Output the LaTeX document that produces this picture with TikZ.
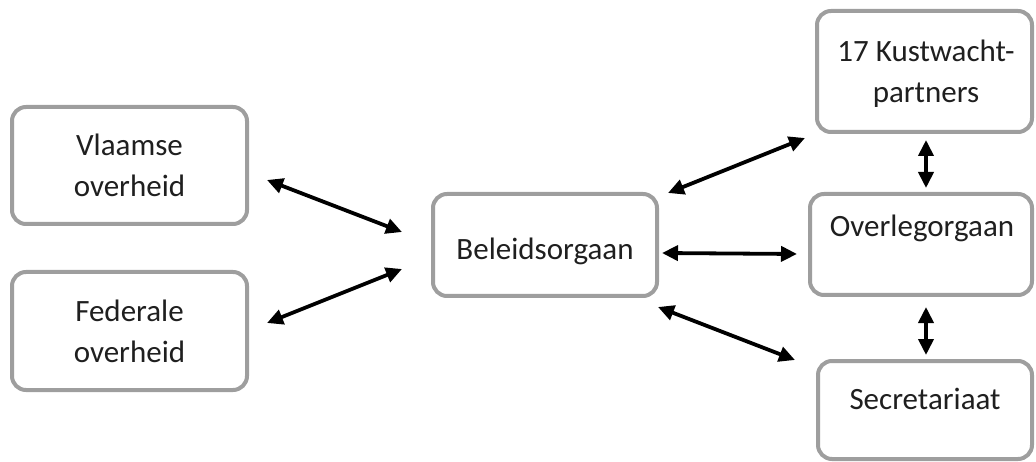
\documentclass[tikz,border=0pt]{standalone}
\usepackage{fontspec}
\setmainfont{Carlito}
\usetikzlibrary{arrows.meta}
\begin{document}
\begin{tikzpicture}[x=1pt,y=-1pt,
  box/.style={draw=black!38, line width=4pt, rounded corners=14pt, fill=white},
  lbl/.style={font=\fontsize{31}{41}\selectfont, align=center, text=black!88},
  conn/.style={line width=3.8pt, {Triangle[length=16pt,width=15pt]}-{Triangle[length=16pt,width=15pt]}}]
\useasboundingbox (0,0) rectangle (1036,462);
% boxes
\draw[box] (12,107) rectangle (247,224); \node[inner sep=0] (vl) at (129.5,165.5) {};
\draw[box] (12,272) rectangle (247,390); \node[inner sep=0] (fe) at (129.5,331) {};
\draw[box] (433,194) rectangle (657,296); \node[inner sep=0] (be) at (545,245) {};
\draw[box] (817,11) rectangle (1032,132); \node[inner sep=0] (ku) at (924.5,71.5) {};
\draw[box] (810,194) rectangle (1032,295); \node[inner sep=0] (ov) at (921,244.5) {};
\draw[box] (818,361) rectangle (1032,459); \node[inner sep=0] (se) at (925,410) {};
% texts
\node[lbl] (tvl) at (129.5,165) {Vlaamse\\overheid};
\node[lbl] (tfe) at (129.5,331) {Federale\\overheid};
\node[lbl] (tbe) at (545,251) {Beleidsorgaan};
\node[lbl] (tku) at (926,74) {17 Kustwacht-\\partners};
\node[lbl] (tov) at (922,228) {Overlegorgaan};
\node[lbl] (tse) at (925,399) {Secretariaat};
% connector endpoints
\coordinate (a1) at (267,180); \coordinate (a2) at (402,232);
\coordinate (b1) at (267,323); \coordinate (b2) at (402,269);
\coordinate (c1) at (668,193); \coordinate (c2) at (805,138);
\coordinate (d1) at (662,253); \coordinate (d2) at (797,254);
\coordinate (e1) at (658,307); \coordinate (e2) at (795,360);
\coordinate (f1) at (926,140); \coordinate (f2) at (926,188);
\coordinate (g1) at (926,307); \coordinate (g2) at (926,355);
\draw[conn] (a1) -- (a2);
\draw[conn] (b1) -- (b2);
\draw[conn] (c1) -- (c2);
\draw[conn] (d1) -- (d2);
\draw[conn] (e1) -- (e2);
\draw[conn] (f1) -- (f2);
\draw[conn] (g1) -- (g2);
\end{tikzpicture}
\end{document}
